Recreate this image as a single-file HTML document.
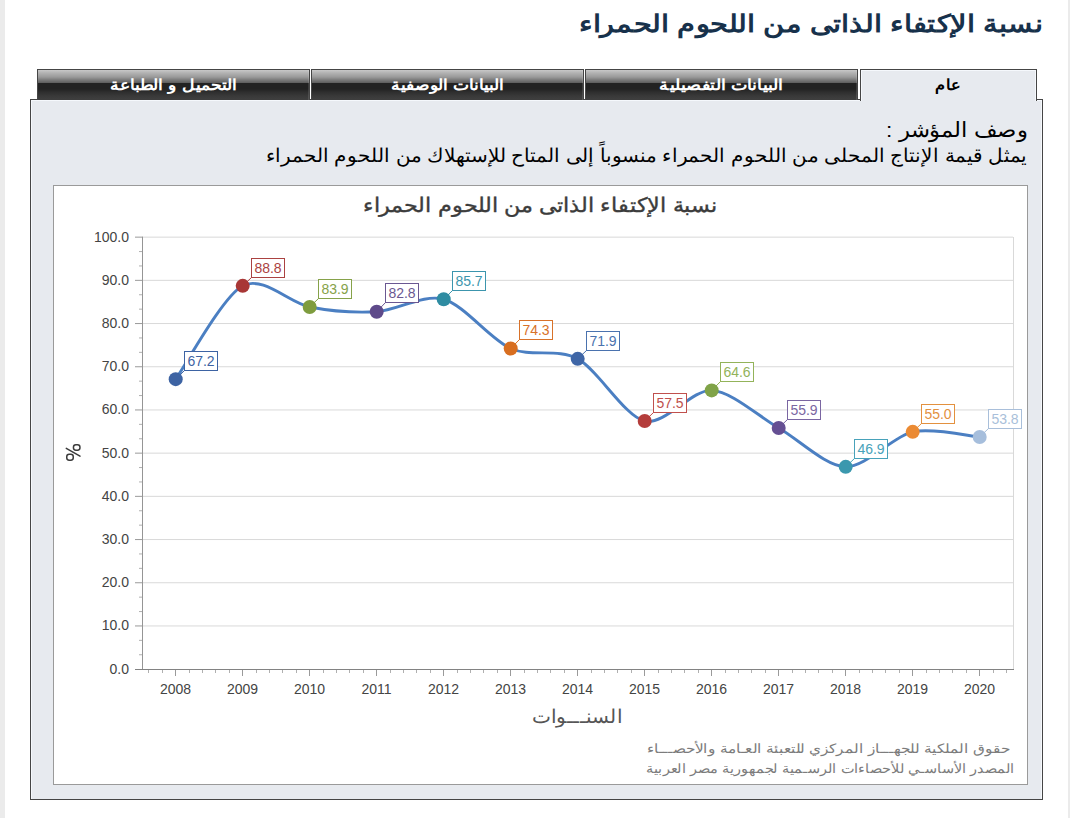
<!DOCTYPE html>
<html><head><meta charset="utf-8">
<style>
html,body{margin:0;padding:0;background:#fff;}
body{width:1070px;height:818px;position:relative;overflow:hidden;font-family:"Liberation Sans",sans-serif;}
.a{position:absolute;}
.strip{background:#ebebeb;top:0;height:818px;}
.t{white-space:nowrap;direction:rtl;transform-origin:100% 0;line-height:1;}
.tab{position:absolute;top:69px;height:31px;box-sizing:border-box;border:1px solid #454545;border-bottom:none;
 background:linear-gradient(to bottom,#c8c8c8 0px,#b2b2b2 3px,#9a9a9a 7px,#7a7a7a 10px,#5c5c5c 13px,#222 13px,#222 19px,#2e2e2e 22px,#393939 26px,#3e3e3e 29px);box-shadow:inset -1px 0 0 rgba(255,255,255,0.12);}
.ax{font-family:"Liberation Sans",sans-serif;font-size:14px;fill:#444;}
.dl{font-family:"Liberation Sans",sans-serif;font-size:14px;}
</style></head><body>
<div class="a strip" style="left:0;width:5px"></div>
<div class="a strip" style="left:1068px;width:2px"></div>
<div class="a t" style="right:27.01px;top:12px;font-size:22px;color:#17314b;transform:scale(1.3214,1.1);font-weight:bold;">نسبة الإكتفاء الذاتى من اللحوم الحمراء</div>
<div class="a" style="left:30px;top:99px;width:1013px;height:701px;box-sizing:border-box;border:1px solid #454545;background:#e7eaef;box-shadow:inset 1px 1px 0 #f5f8fc,inset -1px 0 0 #f5f8fc;"></div>
<div class="tab" style="left:37px;width:273px;"></div>
<div class="tab" style="left:311px;width:273px;"></div>
<div class="tab" style="left:585px;width:273px;"></div>
<div class="a" style="left:860px;top:69px;width:177px;height:32px;box-sizing:border-box;border:1px solid #454545;border-bottom:none;background:#e7eaef;box-shadow:inset 1px 1px 0 #f5f8fc,inset -1px 0 0 #f5f8fc;"></div>
<div class="a t" style="right:832.74px;top:76.9px;font-size:14px;color:#fff;transform:scale(1.2501,1.09);font-weight:bold;">التحميل و الطباعة</div>
<div class="a t" style="right:566.25px;top:76.9px;font-size:14px;color:#fff;transform:scale(1.2416,1.09);font-weight:bold;">البيانات الوصفية</div>
<div class="a t" style="right:286.72px;top:76.9px;font-size:14px;color:#fff;transform:scale(1.2738,1.09);font-weight:bold;">البيانات التفصيلية</div>
<div class="a t" style="right:110.36px;top:76.5px;font-size:14px;color:#000;transform:scale(1.1732,1.09);font-weight:bold;">عام</div>
<div class="a t" style="right:41.97px;top:120px;font-size:22px;color:#000;transform:scale(1.0294,0.95);">وصف المؤشر :</div>
<div class="a t" style="right:42.5px;top:146px;font-size:17px;color:#000;transform:scale(1.1878,1.13);">يمثل قيمة الإنتاج المحلى من اللحوم الحمراء منسوباً إلى المتاح للإستهلاك من اللحوم الحمراء</div>
<div class="a" style="left:53px;top:185px;width:975px;height:600px;box-sizing:border-box;border:1px solid #9a9a9a;background:#fff;"></div>
<div class="a t" style="right:353.0px;top:195.2px;font-size:19px;color:#3c3c3c;transform:scale(1.18,1.06);-webkit-text-stroke:0.35px #3c3c3c;">نسبة الإكتفاء الذاتى من اللحوم الحمراء</div>
<div class="a t" style="right:448.02px;top:706.5px;font-size:19px;color:#555;transform:scale(1.058,1);">السنـــوات</div>
<div class="a t" style="right:59.0px;top:741.8px;font-size:13px;color:#7c7c7c;transform:scale(1.1784,1);">حقوق الملكية للجهـــاز المركزي للتعبئة العـامة والأحصـــاء</div>
<div class="a t" style="right:54.99px;top:761.7px;font-size:13px;color:#7c7c7c;transform:scale(1.1146,1);">المصدر الأساسـي للأحصاءات الرسـمية لجمهورية مصر العربية</div>
<svg class="a" style="left:0;top:0" width="1070" height="818" viewBox="0 0 1070 818">
<line x1="142" y1="625.95" x2="1013" y2="625.95" stroke="#d9d9d9"/>
<line x1="135" y1="625.95" x2="142" y2="625.95" stroke="#9a9a9a"/>
<line x1="142" y1="582.75" x2="1013" y2="582.75" stroke="#d9d9d9"/>
<line x1="135" y1="582.75" x2="142" y2="582.75" stroke="#9a9a9a"/>
<line x1="142" y1="539.55" x2="1013" y2="539.55" stroke="#d9d9d9"/>
<line x1="135" y1="539.55" x2="142" y2="539.55" stroke="#9a9a9a"/>
<line x1="142" y1="496.35" x2="1013" y2="496.35" stroke="#d9d9d9"/>
<line x1="135" y1="496.35" x2="142" y2="496.35" stroke="#9a9a9a"/>
<line x1="142" y1="453.15" x2="1013" y2="453.15" stroke="#d9d9d9"/>
<line x1="135" y1="453.15" x2="142" y2="453.15" stroke="#9a9a9a"/>
<line x1="142" y1="409.95" x2="1013" y2="409.95" stroke="#d9d9d9"/>
<line x1="135" y1="409.95" x2="142" y2="409.95" stroke="#9a9a9a"/>
<line x1="142" y1="366.75" x2="1013" y2="366.75" stroke="#d9d9d9"/>
<line x1="135" y1="366.75" x2="142" y2="366.75" stroke="#9a9a9a"/>
<line x1="142" y1="323.55" x2="1013" y2="323.55" stroke="#d9d9d9"/>
<line x1="135" y1="323.55" x2="142" y2="323.55" stroke="#9a9a9a"/>
<line x1="142" y1="280.35" x2="1013" y2="280.35" stroke="#d9d9d9"/>
<line x1="135" y1="280.35" x2="142" y2="280.35" stroke="#9a9a9a"/>
<line x1="142" y1="237.15" x2="1013" y2="237.15" stroke="#d9d9d9"/>
<line x1="135" y1="237.15" x2="142" y2="237.15" stroke="#9a9a9a"/>
<text x="129" y="673.65" text-anchor="end" class="ax">0.0</text>
<text x="129" y="630.45" text-anchor="end" class="ax">10.0</text>
<text x="129" y="587.25" text-anchor="end" class="ax">20.0</text>
<text x="129" y="544.05" text-anchor="end" class="ax">30.0</text>
<text x="129" y="500.85" text-anchor="end" class="ax">40.0</text>
<text x="129" y="457.65" text-anchor="end" class="ax">50.0</text>
<text x="129" y="414.45" text-anchor="end" class="ax">60.0</text>
<text x="129" y="371.25" text-anchor="end" class="ax">70.0</text>
<text x="129" y="328.05" text-anchor="end" class="ax">80.0</text>
<text x="129" y="284.85" text-anchor="end" class="ax">90.0</text>
<text x="129" y="241.65" text-anchor="end" class="ax">100.0</text>
<line x1="139" y1="654.75" x2="142" y2="654.75" stroke="#b0b0b0"/>
<line x1="139" y1="640.35" x2="142" y2="640.35" stroke="#b0b0b0"/>
<line x1="139" y1="611.55" x2="142" y2="611.55" stroke="#b0b0b0"/>
<line x1="139" y1="597.15" x2="142" y2="597.15" stroke="#b0b0b0"/>
<line x1="139" y1="568.35" x2="142" y2="568.35" stroke="#b0b0b0"/>
<line x1="139" y1="553.95" x2="142" y2="553.95" stroke="#b0b0b0"/>
<line x1="139" y1="525.15" x2="142" y2="525.15" stroke="#b0b0b0"/>
<line x1="139" y1="510.75" x2="142" y2="510.75" stroke="#b0b0b0"/>
<line x1="139" y1="481.95" x2="142" y2="481.95" stroke="#b0b0b0"/>
<line x1="139" y1="467.55" x2="142" y2="467.55" stroke="#b0b0b0"/>
<line x1="139" y1="438.75" x2="142" y2="438.75" stroke="#b0b0b0"/>
<line x1="139" y1="424.35" x2="142" y2="424.35" stroke="#b0b0b0"/>
<line x1="139" y1="395.55" x2="142" y2="395.55" stroke="#b0b0b0"/>
<line x1="139" y1="381.15" x2="142" y2="381.15" stroke="#b0b0b0"/>
<line x1="139" y1="352.35" x2="142" y2="352.35" stroke="#b0b0b0"/>
<line x1="139" y1="337.95" x2="142" y2="337.95" stroke="#b0b0b0"/>
<line x1="139" y1="309.15" x2="142" y2="309.15" stroke="#b0b0b0"/>
<line x1="139" y1="294.75" x2="142" y2="294.75" stroke="#b0b0b0"/>
<line x1="139" y1="265.95" x2="142" y2="265.95" stroke="#b0b0b0"/>
<line x1="139" y1="251.55" x2="142" y2="251.55" stroke="#b0b0b0"/>
<line x1="1013.5" y1="237" x2="1013.5" y2="669" stroke="#d9d9d9"/>
<line x1="142.5" y1="236.6" x2="142.5" y2="670" stroke="#959595"/>
<line x1="135" y1="669.5" x2="1014" y2="669.5" stroke="#828282"/>
<line x1="175.5" y1="670" x2="175.5" y2="676" stroke="#9a9a9a"/>
<text x="175.5" y="694" text-anchor="middle" class="ax">2008</text>
<line x1="242.5" y1="670" x2="242.5" y2="676" stroke="#9a9a9a"/>
<text x="242.5" y="694" text-anchor="middle" class="ax">2009</text>
<line x1="309.5" y1="670" x2="309.5" y2="676" stroke="#9a9a9a"/>
<text x="309.5" y="694" text-anchor="middle" class="ax">2010</text>
<line x1="376.5" y1="670" x2="376.5" y2="676" stroke="#9a9a9a"/>
<text x="376.5" y="694" text-anchor="middle" class="ax">2011</text>
<line x1="443.5" y1="670" x2="443.5" y2="676" stroke="#9a9a9a"/>
<text x="443.5" y="694" text-anchor="middle" class="ax">2012</text>
<line x1="510.5" y1="670" x2="510.5" y2="676" stroke="#9a9a9a"/>
<text x="510.5" y="694" text-anchor="middle" class="ax">2013</text>
<line x1="577.5" y1="670" x2="577.5" y2="676" stroke="#9a9a9a"/>
<text x="577.5" y="694" text-anchor="middle" class="ax">2014</text>
<line x1="644.5" y1="670" x2="644.5" y2="676" stroke="#9a9a9a"/>
<text x="644.5" y="694" text-anchor="middle" class="ax">2015</text>
<line x1="711.5" y1="670" x2="711.5" y2="676" stroke="#9a9a9a"/>
<text x="711.5" y="694" text-anchor="middle" class="ax">2016</text>
<line x1="778.5" y1="670" x2="778.5" y2="676" stroke="#9a9a9a"/>
<text x="778.5" y="694" text-anchor="middle" class="ax">2017</text>
<line x1="845.5" y1="670" x2="845.5" y2="676" stroke="#9a9a9a"/>
<text x="845.5" y="694" text-anchor="middle" class="ax">2018</text>
<line x1="912.5" y1="670" x2="912.5" y2="676" stroke="#9a9a9a"/>
<text x="912.5" y="694" text-anchor="middle" class="ax">2019</text>
<line x1="979.5" y1="670" x2="979.5" y2="676" stroke="#9a9a9a"/>
<text x="979.5" y="694" text-anchor="middle" class="ax">2020</text>
<line x1="148.5" y1="670" x2="148.5" y2="673" stroke="#b0b0b0"/>
<line x1="162.5" y1="670" x2="162.5" y2="673" stroke="#b0b0b0"/>
<line x1="189.5" y1="670" x2="189.5" y2="673" stroke="#b0b0b0"/>
<line x1="202.5" y1="670" x2="202.5" y2="673" stroke="#b0b0b0"/>
<line x1="215.5" y1="670" x2="215.5" y2="673" stroke="#b0b0b0"/>
<line x1="229.5" y1="670" x2="229.5" y2="673" stroke="#b0b0b0"/>
<line x1="256.5" y1="670" x2="256.5" y2="673" stroke="#b0b0b0"/>
<line x1="269.5" y1="670" x2="269.5" y2="673" stroke="#b0b0b0"/>
<line x1="282.5" y1="670" x2="282.5" y2="673" stroke="#b0b0b0"/>
<line x1="296.5" y1="670" x2="296.5" y2="673" stroke="#b0b0b0"/>
<line x1="323.5" y1="670" x2="323.5" y2="673" stroke="#b0b0b0"/>
<line x1="336.5" y1="670" x2="336.5" y2="673" stroke="#b0b0b0"/>
<line x1="349.5" y1="670" x2="349.5" y2="673" stroke="#b0b0b0"/>
<line x1="363.5" y1="670" x2="363.5" y2="673" stroke="#b0b0b0"/>
<line x1="390.5" y1="670" x2="390.5" y2="673" stroke="#b0b0b0"/>
<line x1="403.5" y1="670" x2="403.5" y2="673" stroke="#b0b0b0"/>
<line x1="416.5" y1="670" x2="416.5" y2="673" stroke="#b0b0b0"/>
<line x1="430.5" y1="670" x2="430.5" y2="673" stroke="#b0b0b0"/>
<line x1="457.5" y1="670" x2="457.5" y2="673" stroke="#b0b0b0"/>
<line x1="470.5" y1="670" x2="470.5" y2="673" stroke="#b0b0b0"/>
<line x1="483.5" y1="670" x2="483.5" y2="673" stroke="#b0b0b0"/>
<line x1="497.5" y1="670" x2="497.5" y2="673" stroke="#b0b0b0"/>
<line x1="524.5" y1="670" x2="524.5" y2="673" stroke="#b0b0b0"/>
<line x1="537.5" y1="670" x2="537.5" y2="673" stroke="#b0b0b0"/>
<line x1="550.5" y1="670" x2="550.5" y2="673" stroke="#b0b0b0"/>
<line x1="564.5" y1="670" x2="564.5" y2="673" stroke="#b0b0b0"/>
<line x1="591.5" y1="670" x2="591.5" y2="673" stroke="#b0b0b0"/>
<line x1="604.5" y1="670" x2="604.5" y2="673" stroke="#b0b0b0"/>
<line x1="617.5" y1="670" x2="617.5" y2="673" stroke="#b0b0b0"/>
<line x1="631.5" y1="670" x2="631.5" y2="673" stroke="#b0b0b0"/>
<line x1="658.5" y1="670" x2="658.5" y2="673" stroke="#b0b0b0"/>
<line x1="671.5" y1="670" x2="671.5" y2="673" stroke="#b0b0b0"/>
<line x1="684.5" y1="670" x2="684.5" y2="673" stroke="#b0b0b0"/>
<line x1="698.5" y1="670" x2="698.5" y2="673" stroke="#b0b0b0"/>
<line x1="725.5" y1="670" x2="725.5" y2="673" stroke="#b0b0b0"/>
<line x1="738.5" y1="670" x2="738.5" y2="673" stroke="#b0b0b0"/>
<line x1="751.5" y1="670" x2="751.5" y2="673" stroke="#b0b0b0"/>
<line x1="765.5" y1="670" x2="765.5" y2="673" stroke="#b0b0b0"/>
<line x1="792.5" y1="670" x2="792.5" y2="673" stroke="#b0b0b0"/>
<line x1="805.5" y1="670" x2="805.5" y2="673" stroke="#b0b0b0"/>
<line x1="818.5" y1="670" x2="818.5" y2="673" stroke="#b0b0b0"/>
<line x1="832.5" y1="670" x2="832.5" y2="673" stroke="#b0b0b0"/>
<line x1="859.5" y1="670" x2="859.5" y2="673" stroke="#b0b0b0"/>
<line x1="872.5" y1="670" x2="872.5" y2="673" stroke="#b0b0b0"/>
<line x1="885.5" y1="670" x2="885.5" y2="673" stroke="#b0b0b0"/>
<line x1="899.5" y1="670" x2="899.5" y2="673" stroke="#b0b0b0"/>
<line x1="926.5" y1="670" x2="926.5" y2="673" stroke="#b0b0b0"/>
<line x1="939.5" y1="670" x2="939.5" y2="673" stroke="#b0b0b0"/>
<line x1="952.5" y1="670" x2="952.5" y2="673" stroke="#b0b0b0"/>
<line x1="966.5" y1="670" x2="966.5" y2="673" stroke="#b0b0b0"/>
<line x1="993.5" y1="670" x2="993.5" y2="673" stroke="#b0b0b0"/>
<line x1="1006.5" y1="670" x2="1006.5" y2="673" stroke="#b0b0b0"/>
<path d="M175.70,379.15 C185.75,365.15 222.60,296.66 242.70,285.83 C262.80,275.01 289.60,303.11 309.70,307.00 C329.80,310.89 356.60,312.92 376.70,311.75 C396.80,310.59 423.60,293.72 443.70,299.23 C463.80,304.73 490.60,339.53 510.70,348.47 C530.80,357.42 557.60,347.96 577.70,358.84 C597.80,369.73 624.60,416.32 644.70,421.05 C664.80,425.78 691.60,389.34 711.70,390.38 C731.80,391.41 758.60,416.49 778.70,427.96 C798.80,439.43 825.60,466.26 845.70,466.84 C865.80,467.43 892.60,436.32 912.70,431.85 C932.80,427.38 969.65,436.26 979.70,437.03" fill="none" stroke="#4b7fc2" stroke-width="2.9" stroke-linejoin="round"/>
<line x1="175.70" y1="379.15" x2="184.5" y2="370.5" stroke="#3d63a3"/>
<line x1="242.70" y1="285.83" x2="251.5" y2="277.5" stroke="#ab4241"/>
<line x1="309.70" y1="307.00" x2="318.5" y2="298.5" stroke="#86a24a"/>
<line x1="376.70" y1="311.75" x2="385.5" y2="302.5" stroke="#6a5892"/>
<line x1="443.70" y1="299.23" x2="452.5" y2="290.5" stroke="#3c95ad"/>
<line x1="510.70" y1="348.47" x2="519.5" y2="339.5" stroke="#d8722a"/>
<line x1="577.70" y1="358.84" x2="586.5" y2="350.5" stroke="#4a72ae"/>
<line x1="644.70" y1="421.05" x2="653.5" y2="412.5" stroke="#c0504d"/>
<line x1="711.70" y1="390.38" x2="720.5" y2="381.5" stroke="#93b35a"/>
<line x1="778.70" y1="427.96" x2="787.5" y2="419.5" stroke="#7a66a2"/>
<line x1="845.70" y1="466.84" x2="854.5" y2="458.5" stroke="#48a2ba"/>
<line x1="912.70" y1="431.85" x2="921.5" y2="423.5" stroke="#e3913f"/>
<line x1="979.70" y1="437.03" x2="988.5" y2="428.5" stroke="#a9bfda"/>
<circle cx="175.70" cy="379.15" r="7" fill="#3d63a3"/>
<circle cx="242.70" cy="285.83" r="7" fill="#a83736"/>
<circle cx="309.70" cy="307.00" r="7" fill="#7e9c3e"/>
<circle cx="376.70" cy="311.75" r="7" fill="#5e4a8a"/>
<circle cx="443.70" cy="299.23" r="7" fill="#2f8ca2"/>
<circle cx="510.70" cy="348.47" r="7" fill="#d86e20"/>
<circle cx="577.70" cy="358.84" r="7" fill="#3f66a6"/>
<circle cx="644.70" cy="421.05" r="7" fill="#b43d3b"/>
<circle cx="711.70" cy="390.38" r="7" fill="#80a348"/>
<circle cx="778.70" cy="427.96" r="7" fill="#654f93"/>
<circle cx="845.70" cy="466.84" r="7" fill="#3b98ae"/>
<circle cx="912.70" cy="431.85" r="7" fill="#eb8a33"/>
<circle cx="979.70" cy="437.03" r="7" fill="#a6bedc"/>
<rect x="184.5" y="351.5" width="33" height="19" fill="#fff" stroke="#3d63a3"/>
<text x="201" y="365.5" text-anchor="middle" class="dl" fill="#3d63a3">67.2</text>
<rect x="251.5" y="258.5" width="33" height="19" fill="#fff" stroke="#ab4241"/>
<text x="268" y="272.5" text-anchor="middle" class="dl" fill="#ab4241">88.8</text>
<rect x="318.5" y="279.5" width="33" height="19" fill="#fff" stroke="#86a24a"/>
<text x="335" y="293.5" text-anchor="middle" class="dl" fill="#86a24a">83.9</text>
<rect x="385.5" y="283.5" width="33" height="19" fill="#fff" stroke="#6a5892"/>
<text x="402" y="297.5" text-anchor="middle" class="dl" fill="#6a5892">82.8</text>
<rect x="452.5" y="271.5" width="33" height="19" fill="#fff" stroke="#3c95ad"/>
<text x="469" y="285.5" text-anchor="middle" class="dl" fill="#3c95ad">85.7</text>
<rect x="519.5" y="320.5" width="33" height="19" fill="#fff" stroke="#d8722a"/>
<text x="536" y="334.5" text-anchor="middle" class="dl" fill="#d8722a">74.3</text>
<rect x="586.5" y="331.5" width="33" height="19" fill="#fff" stroke="#4a72ae"/>
<text x="603" y="345.5" text-anchor="middle" class="dl" fill="#4a72ae">71.9</text>
<rect x="653.5" y="393.5" width="33" height="19" fill="#fff" stroke="#c0504d"/>
<text x="670" y="407.5" text-anchor="middle" class="dl" fill="#c0504d">57.5</text>
<rect x="720.5" y="362.5" width="33" height="19" fill="#fff" stroke="#93b35a"/>
<text x="737" y="376.5" text-anchor="middle" class="dl" fill="#93b35a">64.6</text>
<rect x="787.5" y="400.5" width="33" height="19" fill="#fff" stroke="#7a66a2"/>
<text x="804" y="414.5" text-anchor="middle" class="dl" fill="#7a66a2">55.9</text>
<rect x="854.5" y="439.5" width="33" height="19" fill="#fff" stroke="#48a2ba"/>
<text x="871" y="453.5" text-anchor="middle" class="dl" fill="#48a2ba">46.9</text>
<rect x="921.5" y="404.5" width="33" height="19" fill="#fff" stroke="#e3913f"/>
<text x="938" y="418.5" text-anchor="middle" class="dl" fill="#e3913f">55.0</text>
<rect x="988.5" y="409.5" width="33" height="19" fill="#fff" stroke="#a9bfda"/>
<text x="1005" y="423.5" text-anchor="middle" class="dl" fill="#a9bfda">53.8</text>
<g fill="none" stroke="#3c3c3c" stroke-width="1.5"><rect x="73.45" y="444.75" width="6.5" height="5.5" rx="2.4"/><rect x="66.75" y="454.35" width="6.5" height="5.8" rx="2.4"/><line x1="66.3" y1="448.4" x2="80.0" y2="456.1" stroke-linecap="round"/></g>
</svg>
</body></html>
